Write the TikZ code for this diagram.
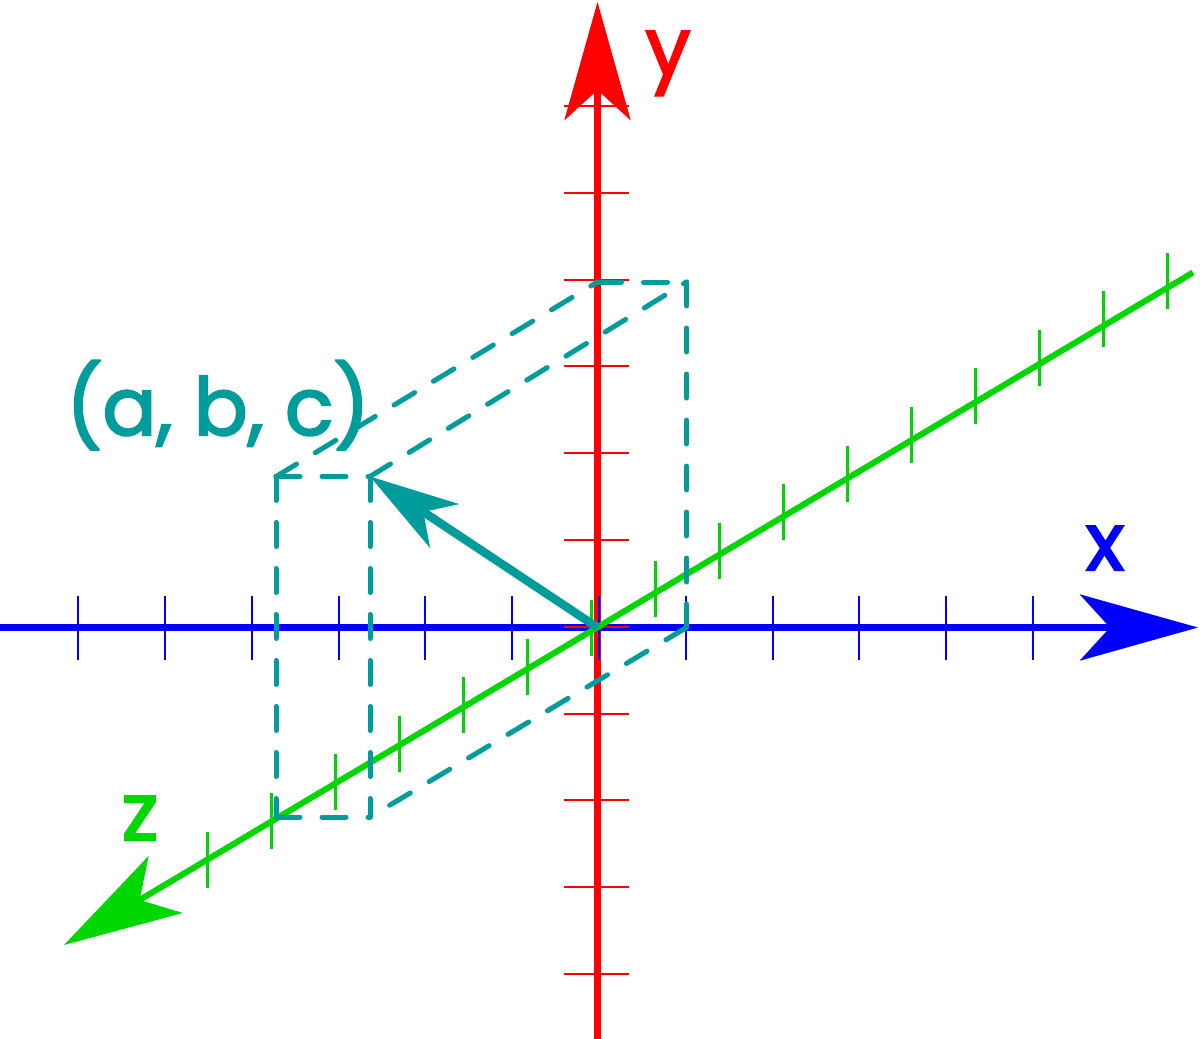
\documentclass[tikz,border=0pt]{standalone}
\usepackage{fontspec}
\setmainfont{Poppins}
\newfontfamily\labfont[FakeBold=2.5]{Poppins}
\usetikzlibrary{arrows.meta}
\definecolor{axblue}{RGB}{0,0,255}
\definecolor{axred}{RGB}{255,0,0}
\definecolor{axgreen}{RGB}{0,214,0}
\definecolor{vteal}{RGB}{0,155,155}
\tikzset{
  bigtip/.style={-{Stealth[length=118pt,width=66pt,inset=30pt]}},
  axisline/.style={line width=6.5pt,bigtip},
  tickline/.style={line width=2pt},
  boxedge/.style={vteal,line width=5pt,line cap=round,dash pattern=on 24pt off 22pt},
  vecline/.style={vteal,line width=8.5pt,-{Stealth[length=89pt,width=52pt,inset=25pt]}},
  lab/.style={inner sep=0pt,anchor=base,font=\fontsize{80}{90}\labfont}
}
\begin{document}
\begin{tikzpicture}[x=1pt,y=-1pt]
\useasboundingbox (0,0) rectangle (1200,1039);
% axis end points
\coordinate (O) at (597.5,627.5);
\coordinate (xs) at (0,627.5);
\coordinate (xe) at (1198,627.5);
\coordinate (ys) at (597.5,1039);
\coordinate (ye) at (597.5,2);
\coordinate (zs) at (1193,272.5);
\coordinate (ze) at (64,945);
% y axis
\draw[axisline,axred] (ys) -- (ye);
% x axis
\draw[axisline,axblue] (xs) -- (xe);
\foreach \k in {-6,...,5}
  \draw[tickline,axblue] ({599+86.8*\k},596) -- ({599+86.8*\k},660);
\foreach \k in {-4,...,6}
  \draw[tickline,axred] (564,{626.7-86.8*\k}) -- (629,{626.7-86.8*\k});
% z axis
\draw[axisline,axgreen,line width=6pt] (zs) -- (ze);
\foreach \k in {0,...,15}
  \draw[axgreen,line width=3pt] ({207+64.05*\k},{831.5-38.6*\k}) -- ++(0,56);
% box
\coordinate (A) at (370,476.5);
\coordinate (B) at (276,476.5);
\coordinate (C) at (276,817);
\coordinate (D) at (370,817);
\coordinate (E) at (597.5,282);
\coordinate (F) at (686.5,282);
\coordinate (G) at (686.5,627.5);
\draw[boxedge] (B) -- (A);
\draw[boxedge] (B) -- (E);
\draw[boxedge] (A) -- (F);
\draw[boxedge] (E) -- (F);
\draw[boxedge] (F) -- (G);
\draw[boxedge] (G) -- (D);
\draw[boxedge] (C) -- (D);
\draw[boxedge] (B) -- (C);
\draw[boxedge] (A) -- (D);
% vector
\draw[vecline] (O) -- (A);
% labels
\node[lab,axblue] (lx) at (1105,570) {x};
\node[lab,axred] (ly) at (668,75) {y};
\node[lab,axgreen] (lz) at (140,840) {z};
\node[lab,vteal] (lp) at (218,435) {(a, b, c)};
\end{tikzpicture}
\end{document}
